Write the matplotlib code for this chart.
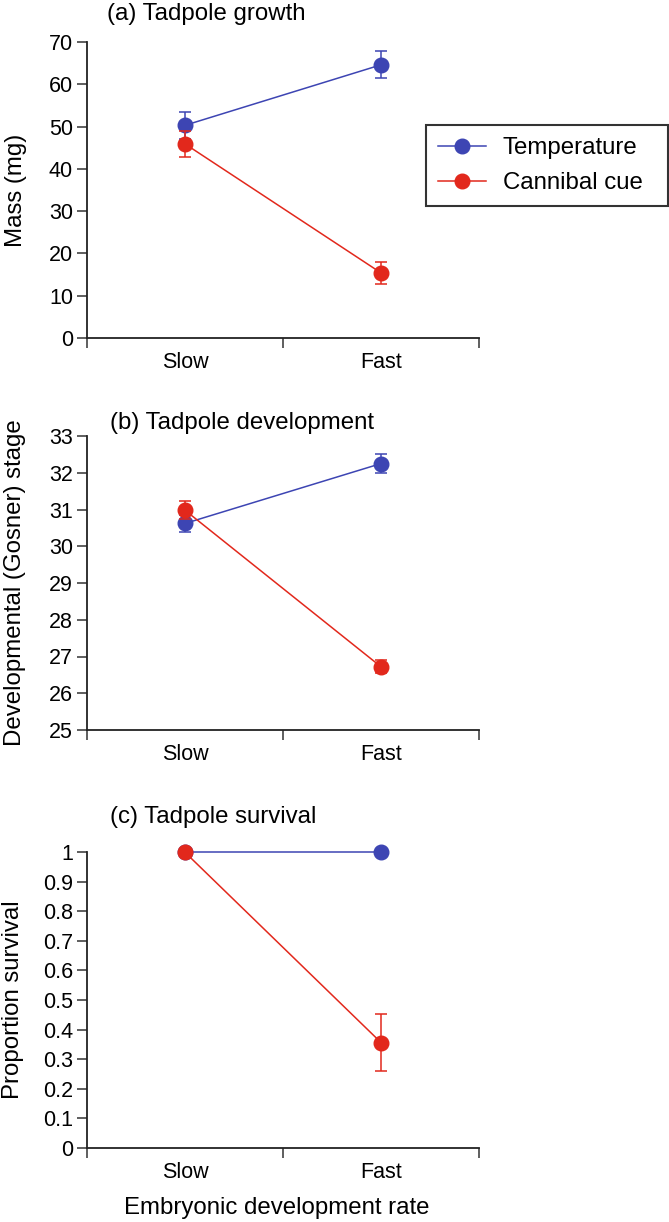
import matplotlib
matplotlib.use("Agg")
import matplotlib.pyplot as plt
from matplotlib.lines import Line2D

plt.rcParams['font.family'] = ['Liberation Sans', 'DejaVu Sans']

categories = ["Slow", "Fast"]
series_names = ["Temperature", "Cannibal cue"]

# Panel (a) mass (mg)
mass_temp = [50.3, 64.6]
mass_temp_err = [3.2, 3.2]
mass_cann = [45.9, 15.4]
mass_cann_err = [3.0, 2.6]

# Panel (b) Gosner stage
stage_temp = [30.62, 32.25]
stage_temp_err = [0.22, 0.25]
stage_cann = [30.98, 26.72]
stage_cann_err = [0.24, 0.18]

# Panel (c) proportion survival
surv_temp = [1.0, 1.0]
surv_temp_err = [0.0, 0.0]
surv_cann = [1.0, 0.356]
surv_cann_err = [0.0, 0.098]

BLUE = '#3d45b3'
RED = '#e2281c'

W, H = 669, 1222
fig = plt.figure(figsize=(W / 100, H / 100), dpi=100)

def frac_rect(top_px, bottom_px, left_px=87, right_px=479):
    return [left_px / W, 1 - bottom_px / H, (right_px - left_px) / W, (bottom_px - top_px) / H]

panels = [
    dict(rect=frac_rect(42, 338), ylim=(0, 70), yticks=list(range(0, 71, 10)),
         yticklabels=[str(v) for v in range(0, 71, 10)],
         t=mass_temp, te=mass_temp_err, c=mass_cann, ce=mass_cann_err,
         title="(a) Tadpole growth", title_xy=(107, 14), ylabel="Mass (mg)", ylabel_x=16),
    dict(rect=frac_rect(436, 730), ylim=(25, 33), yticks=list(range(25, 34)),
         yticklabels=[str(v) for v in range(25, 34)],
         t=stage_temp, te=stage_temp_err, c=stage_cann, ce=stage_cann_err,
         title="(b) Tadpole development", title_xy=(110, 423),
         ylabel="Developmental (Gosner) stage", ylabel_x=15),
    dict(rect=frac_rect(852.3, 1147.7), ylim=(0, 1), yticks=[i / 10 for i in range(11)],
         yticklabels=["0"] + [f"0.{i}" for i in range(1, 10)] + ["1"],
         t=surv_temp, te=surv_temp_err, c=surv_cann, ce=surv_cann_err,
         title="(c) Tadpole survival", title_xy=(110, 817), ylabel="Proportion survival", ylabel_x=13),
]

TICK_FS = 15.5
TEXT_FS = 17.3

xpos = [1, 2]
for p in panels:
    ax = fig.add_axes(p['rect'])
    for vals, errs, col, z in [(p['t'], p['te'], BLUE, 3), (p['c'], p['ce'], RED, 4)]:
        ax.errorbar(xpos, vals, yerr=errs, color=col, lw=1.1, marker='o', markersize=10.5,
                    capsize=4.5, elinewidth=1.1, capthick=1.1, zorder=z, clip_on=False)
    ax.set_xlim(0.5, 2.5)
    ax.set_ylim(*p['ylim'])
    ax.set_yticks(p['yticks'])
    ax.set_yticklabels(p['yticklabels'])
    ax.set_xticks([0.5, 1.5, 2.5])
    ax.set_xticklabels(["", "", ""])
    ax.set_xticks(xpos, minor=True)
    ax.set_xticklabels(categories, minor=True)
    ax.tick_params(axis='x', which='minor', length=0, pad=10, labelsize=TICK_FS)
    ax.tick_params(axis='both', which='major', direction='out', length=7.5, width=1.1,
                   labelsize=TICK_FS, color='#333333')
    ax.tick_params(axis='y', pad=2.5)
    for s in ['top', 'right']:
        ax.spines[s].set_visible(False)
    for s in ['left', 'bottom']:
        ax.spines[s].set_linewidth(1.3)
        ax.spines[s].set_color('#222222')
    tx, ty = p['title_xy']
    fig.text(tx / W, 1 - ty / H, p['title'], fontsize=TEXT_FS, ha='left', va='center')
    fig.text(p['ylabel_x'] / W, p['rect'][1] + p['rect'][3] / 2, p['ylabel'], fontsize=TEXT_FS,
             rotation=90, ha='center', va='center')

fig.text(277 / W, 1 - 1208 / H, "Embryonic development rate", fontsize=TEXT_FS, ha='center', va='center')

handles = [Line2D([], [], color=BLUE, lw=1.1, marker='o', markersize=10.5),
           Line2D([], [], color=RED, lw=1.1, marker='o', markersize=10.5)]
top_frac = 1 - 125 / H
leg = fig.legend(handles, series_names, loc='upper left',
                 bbox_to_anchor=(425.7 / W, top_frac - 0.01, (668 - 425.7) / W, 0.01),
                 mode='expand', fontsize=TEXT_FS, frameon=True, fancybox=False,
                 handlelength=2.0, handletextpad=0.7, labelspacing=0.55,
                 borderpad=0.5, borderaxespad=0)
leg.get_frame().set_edgecolor('black')
leg.get_frame().set_linewidth(1.5)

fig.savefig('out.png', dpi=100)
